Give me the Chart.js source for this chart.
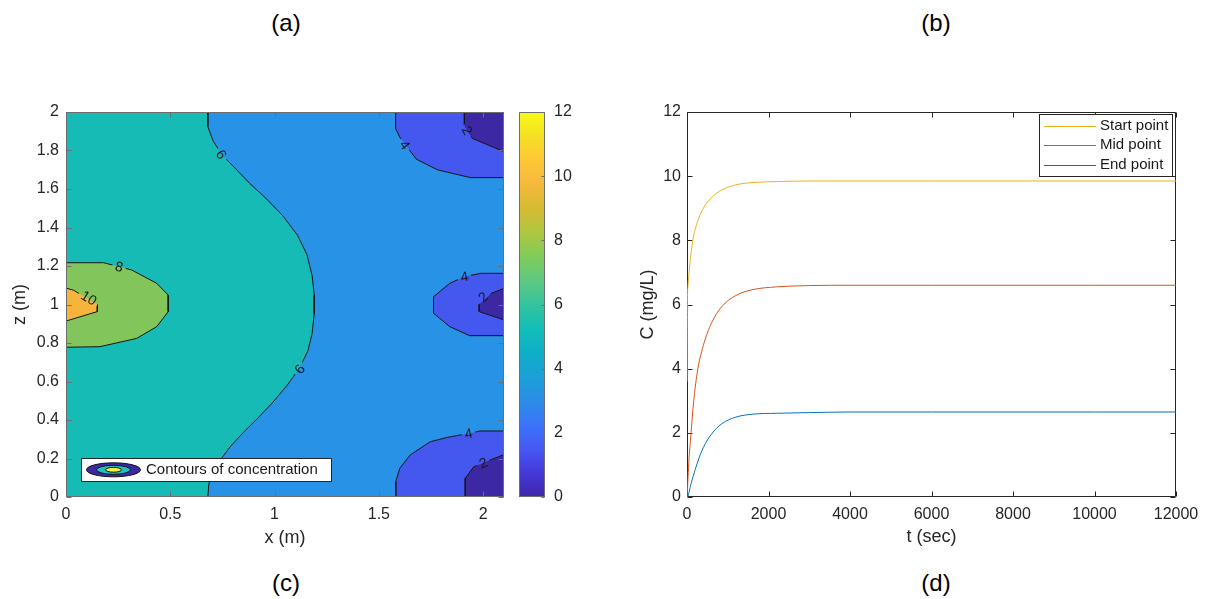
<!DOCTYPE html>
<html>
<head>
<meta charset="utf-8">
<script src="https://cdn.jsdelivr.net/npm/chart.js@4.4.1/dist/chart.umd.min.js"></script>
<style>
  html, body { margin: 0; padding: 0; background: #fff; }
  body { width: 1209px; height: 599px; position: relative; overflow: hidden; font-family: 'Liberation Sans', Arial, sans-serif; }
  canvas { position: absolute; }
  .tag { position: absolute; width: 60px; margin-left: -30px; text-align: center; font-size: 24px; line-height: 26px; color: #000; }
</style>
</head>
<body>
<div class="tag" style="left:286px;top:10px">(a)</div>
<div class="tag" style="left:936px;top:10px">(b)</div>
<div class="tag" style="left:286px;top:570px">(c)</div>
<div class="tag" style="left:936px;top:570px">(d)</div>

<canvas id="contourChart" width="510" height="480" style="left:0;top:90px"></canvas>
<canvas id="colorbarChart" width="80" height="480" style="left:505px;top:90px"></canvas>
<canvas id="lineChart" width="619" height="480" style="left:590px;top:90px"></canvas>

<script>
// ---- panel (c): contours of concentration, x and z in metres ----
const xTicks = [0, 0.5, 1, 1.5, 2];
const zTicks = [0, 0.2, 0.4, 0.6, 0.8, 1, 1.2, 1.4, 1.6, 1.8, 2];
const domainX = [0, 2.1];
const domainZ = [0, 2];
const colorLimits = [0, 12];
const cbarTicks = [0, 2, 4, 6, 8, 10, 12];

// contour lines, [x, z]
const contour6 = [[0.68, 2], [0.68, 1.925], [0.705, 1.85], [0.75, 1.775], [0.80, 1.72], [0.88, 1.63], [0.96, 1.55],
  [1.04, 1.46], [1.11, 1.36], [1.155, 1.26], [1.18, 1.15], [1.19, 1.05], [1.19, 0.95], [1.18, 0.85], [1.16, 0.76],
  [1.12, 0.67], [1.06, 0.58], [0.99, 0.49], [0.92, 0.41], [0.85, 0.335], [0.79, 0.265], [0.745, 0.2], [0.71, 0.13],
  [0.685, 0.07], [0.68, 0]];
const contour8 = [[0, 1.217], [0.18, 1.217], [0.256, 1.196], [0.315, 1.179], [0.435, 1.11], [0.49, 1.049],
  [0.49, 0.963], [0.435, 0.885], [0.339, 0.824], [0.163, 0.781], [0, 0.778]];
const contour10 = [[0, 1.085], [0.035, 1.075], [0.15, 1.0], [0.15, 0.963], [0, 0.914]];
const contour4Top = [[1.58, 2], [1.58, 1.915], [1.6, 1.87], [1.63, 1.825], [1.68, 1.755], [1.78, 1.70], [1.94, 1.659], [2.1, 1.659]];
const contour4Mid = [[2.1, 1.162], [1.99, 1.162], [1.91, 1.145], [1.84, 1.11], [1.762, 1.04], [1.762, 0.955],
  [1.84, 0.885], [1.935, 0.838], [2.1, 0.838]];
const contour4Bot = [[2.1, 0.343], [1.985, 0.343], [1.93, 0.33], [1.83, 0.31], [1.746, 0.287], [1.65, 0.218],
  [1.60, 0.149], [1.581, 0.08], [1.581, 0]];
const contour2Top = [[1.91, 2], [1.91, 1.93], [1.93, 1.89], [1.95, 1.862], [2.1, 1.794]];
const contour2Mid = [[2.1, 1.084], [2.04, 1.058], [1.981, 1.0], [1.981, 0.963], [2.1, 0.92]];
const contour2Bot = [[2.1, 0.22], [2.04, 0.195], [1.955, 0.157], [1.914, 0.097], [1.914, 0]];

// label spots: [level, x, z]
const labelSpots = [[6, 0.745, 1.78], [6, 1.12, 0.665], [8, 0.255, 1.198], [10, 0.11, 1.035],
  [4, 1.625, 1.83], [4, 1.91, 1.145], [4, 1.93, 0.33],
  [2, 1.925, 1.905], [2, 2.0, 1.04], [2, 2.0, 0.178]];

// ---- panel (d): concentration vs time ----
const tSec = [0, 10, 25, 50, 100, 150, 250, 400, 600, 850, 1200, 1600, 2200, 3000, 4000, 6000, 8000, 10000, 12000];
const startPoint = [3.6, 6.1, 6.6, 7.0, 7.6, 8.05, 8.55, 9.0, 9.33, 9.57, 9.73, 9.80, 9.83, 9.85, 9.85, 9.85, 9.85, 9.85, 9.85];
const midPoint = [0, 0.2, 0.6, 1.2, 2.0, 2.8, 3.87, 4.72, 5.42, 5.93, 6.28, 6.46, 6.55, 6.59, 6.6, 6.6, 6.6, 6.6, 6.6];
const endPoint = [0, 0, 0.03, 0.15, 0.42, 0.64, 1.05, 1.54, 1.96, 2.28, 2.49, 2.58, 2.61, 2.63, 2.65, 2.65, 2.65, 2.65, 2.65];
const tTicks = [0, 2000, 4000, 6000, 8000, 10000, 12000];
const cTicks = [0, 2, 4, 6, 8, 10, 12];

const parula = ['#3e26a8', '#4538d9', '#4758f3', '#3b74fb', '#2b8de5', '#1ba0d8', '#0eafc7', '#12beb9',
  '#34c39e', '#5ec982', '#81cc59', '#aec740', '#d6bb32', '#f5b93c', '#fec735', '#f5e025', '#f9fb15'];
const bandColor = { b0: '#3d28a4', b2: '#4457ef', b4: '#2892e7', b6: '#15bbb4', b8: '#82c65b', b10: '#f7b43d' };

Chart.defaults.font.family = "'Liberation Sans', Arial, sans-serif";
Chart.defaults.font.size = 16;
Chart.defaults.color = '#262626';

const toXY = pts => pts.map(([x, y]) => ({ x, y }));
const xMax = domainX[1], zMax = domainZ[1];

function band(pts, color, order) {
  return { data: toXY(pts), showLine: true, fill: 'shape', backgroundColor: color,
    borderColor: 'transparent', borderWidth: 0, pointRadius: 0, tension: 0, order };
}
function isoLine(pts, level) {
  return { data: toXY(pts), showLine: true, fill: false, borderColor: '#161616', borderWidth: 1,
    pointRadius: 0, tension: 0, contourLevel: level, order: 0 };
}

// MATLAB-like box with inward ticks on all sides
function drawBox(chart, opts) {
  const { ctx, chartArea: a, scales } = chart;
  const L = Math.round(a.left) + 0.5, R = Math.round(a.right) - 0.5;
  const T = Math.round(a.top) + 0.5, B = Math.round(a.bottom) - 0.5;
  ctx.save();
  ctx.strokeStyle = opts.color;
  ctx.lineWidth = 1;
  ctx.beginPath();
  ctx.rect(L, T, R - L, B - T);
  if (scales.x && scales.x.options.display !== false) {
    scales.x.ticks.forEach(t => {
      const p = Math.round(scales.x.getPixelForValue(t.value)) + 0.5;
      ctx.moveTo(p, B); ctx.lineTo(p, B - opts.len);
      ctx.moveTo(p, T); ctx.lineTo(p, T + opts.len);
    });
  }
  scales.y.ticks.forEach(t => {
    const p = Math.round(scales.y.getPixelForValue(t.value)) + 0.5;
    if (opts.leftTicks !== false) { ctx.moveTo(L, p); ctx.lineTo(L + opts.len, p); }
    ctx.moveTo(R, p); ctx.lineTo(R - opts.len, p);
  });
  ctx.stroke();
  ctx.restore();
}
const boxPlugin = {
  id: 'matlabBox',
  beforeDatasetsDraw(chart, args, opts) { if (opts.under) drawBox(chart, opts); },
  afterDatasetsDraw(chart, args, opts) { if (!opts.under) drawBox(chart, opts); }
};

// contour labels: gap in the line + rotated text
function labelBoxes(chart) {
  const { ctx, scales } = chart;
  ctx.save();
  ctx.font = "14px 'Liberation Sans', Arial, sans-serif";
  const out = labelSpots.map(([level, x, z]) => {
    const px = scales.x.getPixelForValue(x), py = scales.y.getPixelForValue(z);
    let best = null, bestD = Infinity;
    chart.data.datasets.forEach(ds => {
      if (ds.contourLevel !== level) return;
      for (let i = 0; i < ds.data.length - 1; i++) {
        const x1 = scales.x.getPixelForValue(ds.data[i].x), y1 = scales.y.getPixelForValue(ds.data[i].y);
        const x2 = scales.x.getPixelForValue(ds.data[i + 1].x), y2 = scales.y.getPixelForValue(ds.data[i + 1].y);
        const dx = x2 - x1, dy = y2 - y1, len2 = dx * dx + dy * dy || 1;
        const u = Math.max(0, Math.min(1, ((px - x1) * dx + (py - y1) * dy) / len2));
        const d = Math.hypot(x1 + u * dx - px, y1 + u * dy - py);
        if (d < bestD) { bestD = d; best = Math.atan2(dy, dx); }
      }
    });
    let ang = best || 0;
    if (ang > Math.PI / 2) ang -= Math.PI;
    if (ang <= -Math.PI / 2) ang += Math.PI;
    const text = String(level);
    return { px, py, ang, text, hw: ctx.measureText(text).width / 2 + 3, hh: 7 };
  });
  ctx.restore();
  return out;
}

const contourLabelPlugin = {
  id: 'contourLabels',
  beforeDatasetDraw(chart, args) {
    const ds = chart.data.datasets[args.index];
    if (ds.contourLevel === undefined) return;
    const { ctx, chartArea: a } = chart;
    ctx.save();
    ctx.beginPath();
    ctx.rect(a.left, a.top, a.right - a.left, a.bottom - a.top);
    labelBoxes(chart).forEach(b => {
      const c = Math.cos(b.ang), s = Math.sin(b.ang);
      const pts = [[-b.hw, -b.hh], [b.hw, -b.hh], [b.hw, b.hh], [-b.hw, b.hh]];
      pts.forEach(([u, v], i) => {
        const X = b.px + u * c - v * s, Y = b.py + u * s + v * c;
        if (i === 0) ctx.moveTo(X, Y); else ctx.lineTo(X, Y);
      });
      ctx.closePath();
    });
    ctx.clip('evenodd');
  },
  afterDatasetDraw(chart, args) {
    const ds = chart.data.datasets[args.index];
    if (ds.contourLevel === undefined) return;
    chart.ctx.restore();
  },
  afterDatasetsDraw(chart) {
    const { ctx } = chart;
    labelBoxes(chart).forEach(b => {
      ctx.save();
      ctx.translate(b.px, b.py);
      ctx.rotate(b.ang);
      ctx.font = "14px 'Liberation Sans', Arial, sans-serif";
      ctx.fillStyle = '#1a1a1a';
      ctx.textAlign = 'center';
      ctx.textBaseline = 'middle';
      ctx.fillText(b.text, 0, 1);
      ctx.restore();
    });
  }
};

// legend box inside panel (c)
const contourLegendPlugin = {
  id: 'contourLegend',
  afterDraw(chart) {
    const { ctx, chartArea: a } = chart;
    const x0 = a.left + 15, y0 = a.bottom - 39.5, w = 250, h = 23;
    ctx.save();
    ctx.fillStyle = '#fff';
    ctx.strokeStyle = '#262626';
    ctx.lineWidth = 1;
    ctx.fillRect(Math.round(x0) + 0.5, Math.round(y0) + 0.5, w, h);
    ctx.strokeRect(Math.round(x0) + 0.5, Math.round(y0) + 0.5, w, h);
    const cx = x0 + 32.5, cy = y0 + 12.3;
    [[27, 7, bandColor.b0], [17, 4.5, '#1fc0c2'], [8, 2.4, '#f2f23a']].forEach(([rx, ry, col]) => {
      ctx.beginPath();
      ctx.ellipse(cx, cy, rx, ry, 0, 0, Math.PI * 2);
      ctx.fillStyle = col;
      ctx.fill();
      ctx.strokeStyle = '#111';
      ctx.lineWidth = 1;
      ctx.stroke();
    });
    ctx.fillStyle = '#1a1a1a';
    ctx.font = "15px 'Liberation Sans', Arial, sans-serif";
    ctx.textBaseline = 'middle';
    ctx.fillText('Contours of concentration', x0 + 65, cy);
    ctx.restore();
  }
};

const tickAt = arr => scale => { scale.ticks = arr.map(v => ({ value: v })); };

new Chart(document.getElementById('contourChart'), {
  type: 'scatter',
  data: {
    datasets: [
      band([[0, 0], [xMax, 0], [xMax, zMax], [0, zMax]], bandColor.b6, 10),
      band([...contour6, [xMax, 0], [xMax, zMax]], bandColor.b4, 9),
      band([...contour4Top, [xMax, zMax]], bandColor.b2, 8),
      band(contour4Mid, bandColor.b2, 8),
      band([...contour4Bot, [xMax, 0]], bandColor.b2, 8),
      band([...contour2Top, [xMax, zMax]], bandColor.b0, 7),
      band(contour2Mid, bandColor.b0, 7),
      band([...contour2Bot, [xMax, 0]], bandColor.b0, 7),
      band(contour8, bandColor.b8, 6),
      band(contour10, bandColor.b10, 5),
      isoLine(contour6, 6),
      isoLine(contour8, 8),
      isoLine(contour10, 10),
      isoLine(contour4Top, 4),
      isoLine(contour4Mid, 4),
      isoLine(contour4Bot, 4),
      isoLine(contour2Top, 2),
      isoLine(contour2Mid, 2),
      isoLine(contour2Bot, 2)
    ]
  },
  options: {
    responsive: false,
    animation: false,
    events: [],
    layout: { padding: { top: 22, right: 6, left: 0, bottom: 0 } },
    plugins: {
      legend: { display: false },
      tooltip: { enabled: false },
      matlabBox: { color: '#6e6e6e', len: 5 }
    },
    scales: {
      x: {
        type: 'linear', min: domainX[0], max: domainX[1],
        afterBuildTicks: tickAt(xTicks),
        afterFit: s => { s.height = 73; },
        grid: { display: false, drawTicks: false },
        border: { display: false },
        ticks: { padding: 8, callback: v => String(v) },
        title: { display: true, text: 'x (m)', font: { size: 18 }, padding: { top: 0, bottom: 21 } }
      },
      y: {
        type: 'linear', min: domainZ[0], max: domainZ[1],
        afterBuildTicks: tickAt(zTicks),
        afterFit: s => { s.width = 66; },
        grid: { display: false, drawTicks: false },
        border: { display: false },
        ticks: { padding: 7, callback: v => String(+v.toFixed(2)) },
        title: { display: true, text: 'z (m)', font: { size: 18 }, padding: { top: 9, bottom: 0 } }
      }
    }
  },
  plugins: [contourLabelPlugin, boxPlugin, contourLegendPlugin]
});

// colorbar
new Chart(document.getElementById('colorbarChart'), {
  type: 'bar',
  data: {
    labels: [''],
    datasets: [{
      data: [colorLimits],
      barPercentage: 1,
      categoryPercentage: 1,
      borderWidth: 0,
      backgroundColor: c => {
        const ch = c.chart;
        if (!ch.chartArea) return parula[0];
        const y = ch.scales.y;
        const g = ch.ctx.createLinearGradient(0, y.getPixelForValue(colorLimits[0]), 0, y.getPixelForValue(colorLimits[1]));
        parula.forEach((col, i) => g.addColorStop(i / (parula.length - 1), col));
        return g;
      }
    }]
  },
  options: {
    responsive: false,
    animation: false,
    events: [],
    layout: { padding: { top: 22, left: 14, bottom: 73, right: 0 } },
    plugins: {
      legend: { display: false },
      tooltip: { enabled: false },
      matlabBox: { color: '#6e6e6e', len: 3, leftTicks: false }
    },
    scales: {
      x: { display: false },
      y: {
        position: 'right', min: colorLimits[0], max: colorLimits[1],
        afterBuildTicks: tickAt(cbarTicks),
        afterFit: s => { s.width = 40; },
        grid: { display: false, drawTicks: false },
        border: { display: false },
        ticks: { padding: 9, callback: v => String(v) }
      }
    }
  },
  plugins: [boxPlugin]
});

// legend box inside panel (d)
const lineLegendPlugin = {
  id: 'lineLegend',
  afterDraw(chart) {
    const { ctx, chartArea: a } = chart;
    const w = 133, h = 62;
    const x0 = Math.round(a.right - 4 - w) + 0.5, y0 = Math.round(a.top + 2) + 0.5;
    ctx.save();
    ctx.fillStyle = '#fff';
    ctx.fillRect(x0, y0, w, h);
    ctx.strokeStyle = '#262626';
    ctx.lineWidth = 1;
    ctx.strokeRect(x0, y0, w, h);
    ctx.font = "15px 'Liberation Sans', Arial, sans-serif";
    ctx.textBaseline = 'middle';
    chart.data.datasets.forEach((ds, i) => {
      const y = y0 + 11.5 + i * 19.3;
      ctx.strokeStyle = ds.borderColor;
      ctx.beginPath();
      ctx.moveTo(x0 + 4.5, Math.round(y) + 0.5);
      ctx.lineTo(x0 + 56.5, Math.round(y) + 0.5);
      ctx.stroke();
      ctx.fillStyle = '#1a1a1a';
      ctx.fillText(ds.label, x0 + 60.5, y);
    });
    ctx.restore();
  }
};

const series = (label, values, color) => ({
  label,
  data: tSec.map((t, i) => ({ x: t, y: values[i] })),
  showLine: true,
  borderColor: color,
  borderWidth: 1,
  pointRadius: 0,
  cubicInterpolationMode: 'monotone',
  fill: false
});

new Chart(document.getElementById('lineChart'), {
  type: 'scatter',
  data: {
    datasets: [
      series('Start point', startPoint, '#EDB120'),
      series('Mid point', midPoint, '#D95319'),
      series('End point', endPoint, '#0072BD')
    ]
  },
  options: {
    responsive: false,
    animation: false,
    events: [],
    layout: { padding: { top: 22, right: 33, left: 0, bottom: 0 } },
    plugins: {
      legend: { display: false },
      tooltip: { enabled: false },
      matlabBox: { color: '#262626', len: 5, under: true }
    },
    scales: {
      x: {
        type: 'linear', min: 0, max: 12000,
        afterBuildTicks: tickAt(tTicks),
        afterFit: s => { s.height = 73; },
        grid: { display: false, drawTicks: false },
        border: { display: false },
        ticks: { padding: 8, callback: v => String(v) },
        title: { display: true, text: 't (sec)', font: { size: 18 }, padding: { top: 0, bottom: 22 } }
      },
      y: {
        type: 'linear', min: 0, max: 12,
        afterBuildTicks: tickAt(cTicks),
        afterFit: s => { s.width = 97; },
        grid: { display: false, drawTicks: false },
        border: { display: false },
        ticks: { padding: 6, callback: v => String(v) },
        title: { display: true, text: 'C (mg/L)', font: { size: 18 }, padding: { top: 47, bottom: 0 } }
      }
    }
  },
  plugins: [boxPlugin, lineLegendPlugin]
});
</script>
</body>
</html>
